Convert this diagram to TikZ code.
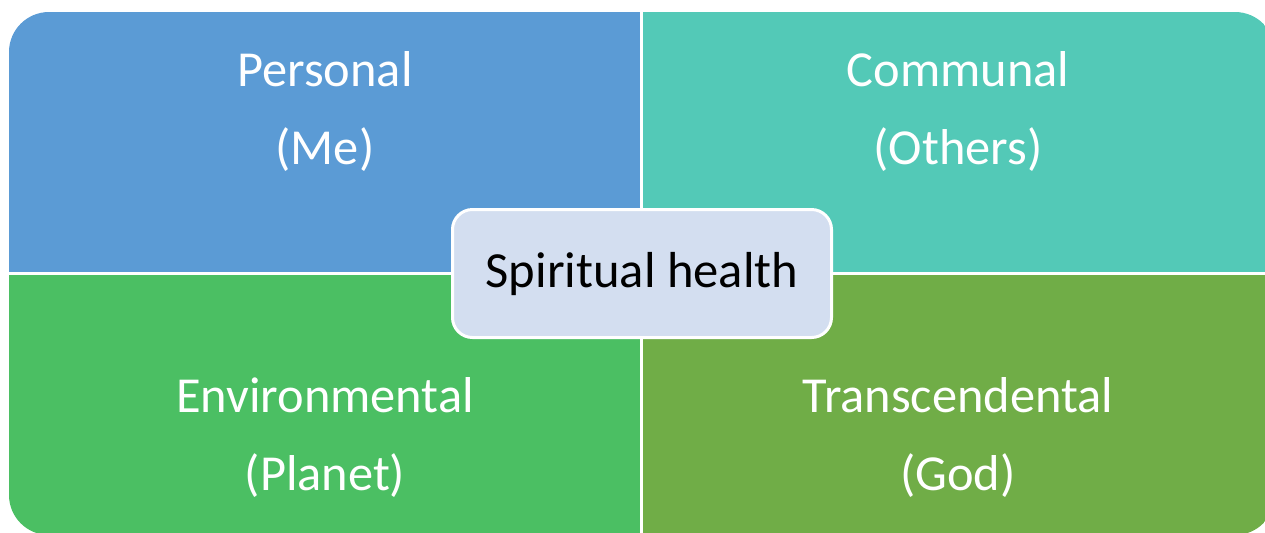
\documentclass[tikz,border=0pt]{standalone}
\usepackage{fontspec}
\setmainfont{Carlito}
\definecolor{personalblue}{HTML}{5B9BD5}
\definecolor{communalteal}{HTML}{53C9B7}
\definecolor{planetgreen}{HTML}{4BBF63}
\definecolor{godgreen}{HTML}{70AD47}
\definecolor{hubfill}{HTML}{D3DEF0}
\tikzset{quadlabel/.style={text=white, align=center, font=\fontsize{25.2}{39}\selectfont}}
\tikzset{hub/.style={draw=white, line width=1.5pt, fill=hubfill, rounded corners=10pt,
	minimum width=189.5pt, minimum height=64pt, inner sep=0pt, font=\fontsize{25.3}{29}\selectfont}}

\begin{document}
\begin{tikzpicture}[x=0.5pt, y=-0.5pt]
	\useasboundingbox (0,0) rectangle (1265,532);
	
	% Quadrants
	\begin{scope}
		\clip[rounded corners=20pt] (9,12) rectangle (1275,535);
		\fill[personalblue] (9,12) rectangle (640,272);
		\fill[communalteal] (643,12) rectangle (1275,272);
		\fill[planetgreen] (9,274.5) rectangle (640,535);
		\fill[godgreen] (643,274.5) rectangle (1275,535);
	\end{scope}
	
	% Labels
	\node[quadlabel] (personal) at (325,111) {Personal\\(Me)};
	\node[quadlabel] (communal) at (958,111) {Communal\\(Others)};
	\node[quadlabel] (environmental) at (325,437) {Environmental\\(Planet)};
	\node[quadlabel] (transcendental) at (958,437) {Transcendental\\(God)};
	
	% Centre
	\node[hub] (health) at (642,273.5) {Spiritual health};
\end{tikzpicture}
\end{document}
